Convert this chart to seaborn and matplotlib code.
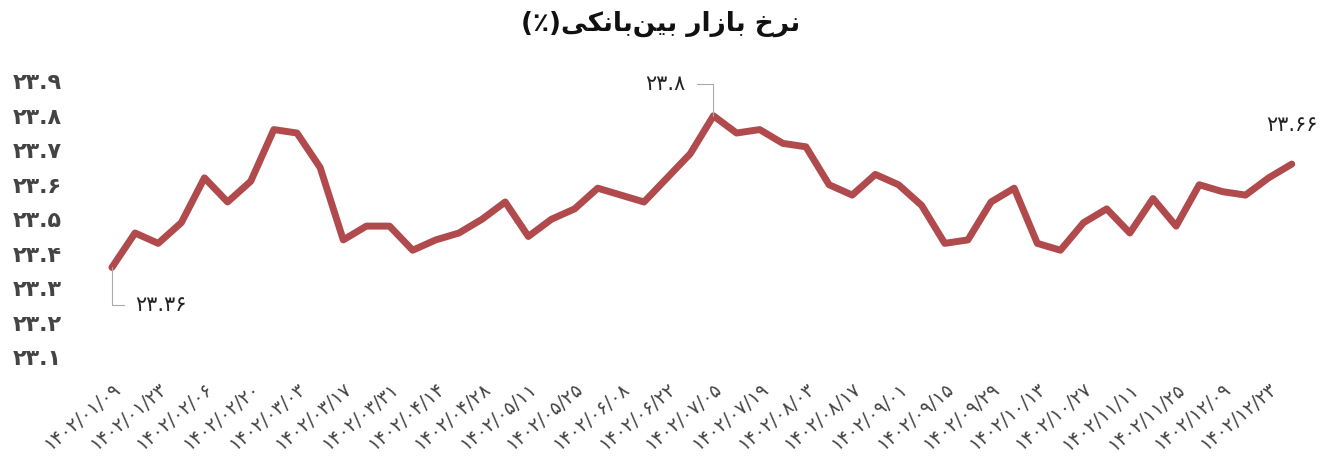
import numpy as np
import pandas as pd
import matplotlib
matplotlib.use("Agg")
import matplotlib.pyplot as plt
import seaborn as sns

# -----------------------------
# data
# -----------------------------
dates = [
    "1402/01/09", "1402/01/16", "1402/01/23", "1402/01/30", "1402/02/06", "1402/02/13",
    "1402/02/20", "1402/02/27", "1402/03/03", "1402/03/10", "1402/03/17", "1402/03/24",
    "1402/03/31", "1402/04/07", "1402/04/14", "1402/04/21", "1402/04/28", "1402/05/04",
    "1402/05/11", "1402/05/18", "1402/05/25", "1402/06/01", "1402/06/08", "1402/06/15",
    "1402/06/22", "1402/06/29", "1402/07/05", "1402/07/12", "1402/07/19", "1402/07/26",
    "1402/08/03", "1402/08/10", "1402/08/17", "1402/08/24", "1402/09/01", "1402/09/08",
    "1402/09/15", "1402/09/22", "1402/09/29", "1402/10/06", "1402/10/13", "1402/10/20",
    "1402/10/27", "1402/11/04", "1402/11/11", "1402/11/18", "1402/11/25", "1402/12/02",
    "1402/12/09", "1402/12/16", "1402/12/23", "1403/01/01",
]
rate = [
    23.36, 23.46, 23.43, 23.49, 23.62, 23.55, 23.61, 23.76, 23.75, 23.65,
    23.44, 23.48, 23.48, 23.41, 23.44, 23.46, 23.50, 23.55, 23.45, 23.50,
    23.53, 23.59, 23.57, 23.55, 23.62, 23.69, 23.80, 23.75, 23.76, 23.72,
    23.71, 23.60, 23.57, 23.63, 23.60, 23.54, 23.43, 23.44, 23.55, 23.59,
    23.43, 23.41, 23.49, 23.53, 23.46, 23.56, 23.48, 23.60, 23.58, 23.57,
    23.62, 23.66,
]
y_ticks = [23.1, 23.2, 23.3, 23.4, 23.5, 23.6, 23.7, 23.8, 23.9]

# "نرخ بازار بین‌بانکی(٪)" shaped by hand (presentation forms, visual order)
title_txt = "(\u066a)" + "\ufbfd\ufb91\ufee7\ufe8e\ufe91" + "\ufee6\ufbff\ufe91" + " " + \
            "\ufead\ufe8d\ufeaf\ufe8e\ufe91" + " " + "\ufea5\ufeae\ufee7"

FA_DIGITS = str.maketrans("0123456789", "۰۱۲۳۴۵۶۷۸۹")


def fa(s):
    return str(s).translate(FA_DIGITS)


df = pd.DataFrame({"idx": np.arange(len(rate)), "date": dates, "rate": rate})

# -----------------------------
# plot
# -----------------------------
sns.set_theme(style="white")
plt.rcParams["font.family"] = ["DejaVu Sans"]

fig = plt.figure(figsize=(13.22, 4.62), dpi=100)
ax = fig.add_axes([0.0759, 0.227, 0.910, 0.597])

sns.lineplot(data=df, x="idx", y="rate", color="#b04a4c", linewidth=5, ax=ax)

ax.set_xlim(-0.5, len(rate) - 0.5)
ax.set_ylim(23.1, 23.9)
ax.set_yticks(y_ticks)
ax.set_yticklabels([fa(f"{v:.1f}") for v in y_ticks], fontsize=16, fontweight="semibold",
                   color="#444444")
ax.tick_params(axis="y", length=0, pad=28)

lab_idx = df["idx"][::2]
ax.set_xticks(lab_idx)
ax.set_xticklabels([fa(d) for d in df["date"][::2]], rotation=40, ha="right",
                   rotation_mode="anchor", fontsize=13.5, color="#444444")
ax.tick_params(axis="x", length=0, pad=16)

ax.set_xlabel("")
ax.set_ylabel("")
sns.despine(ax=ax, left=True, bottom=True)
ax.grid(False)

# labels for first, max and last value
leader = dict(arrowstyle="-", color="#aaaaaa", lw=0.8,
              connectionstyle="angle,angleA=0,angleB=90,rad=0", shrinkA=6, shrinkB=0)
ax.annotate(fa(rate[0]), xy=(0, rate[0]), xytext=(17, -27), textcoords="offset points",
            ha="left", va="center", fontsize=15, color="#222222", arrowprops=leader)
imax = int(np.argmax(rate))
ax.annotate(fa(f"{rate[imax]:g}"), xy=(imax, rate[imax]), xytext=(-20, 23),
            textcoords="offset points", ha="right", va="center", fontsize=15,
            color="#222222", arrowprops=leader)
ax.annotate(fa(rate[-1]), xy=(len(rate) - 1, rate[-1]), xytext=(0, 28),
            textcoords="offset points", ha="center", va="center", fontsize=15,
            color="#222222")

fig.text(0.5, 0.948, title_txt, ha="center", va="center", fontsize=19,
         fontweight="bold", color="#111111")

fig.savefig("out.png", dpi=100, facecolor="white")
